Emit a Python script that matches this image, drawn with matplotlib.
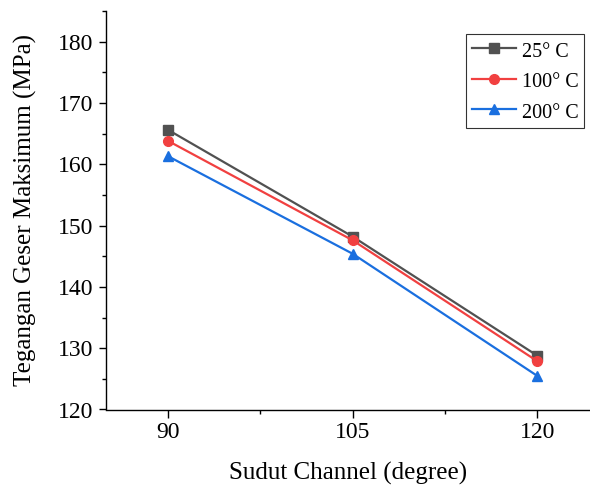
import matplotlib
matplotlib.use("Agg")
import matplotlib.pyplot as plt
from matplotlib.ticker import MultipleLocator

# Channel angle (degree) and maximum shear stress (MPa) per temperature
angles = [90, 105, 120]
stress_25 = [165.6, 148.2, 128.8]
stress_100 = [163.8, 147.6, 127.9]
stress_200 = [161.3, 145.4, 125.5]
series_labels = ["25° C", "100° C", "200° C"]

plt.rcParams["font.family"] = ["Liberation Serif", "DejaVu Serif"]

fig = plt.figure(figsize=(5.90, 4.88), dpi=100)
W, H = 590, 488
ax = fig.add_axes([105.5 / W, (H - 409.5) / H, (590 - 105.5) / W, (409.5 - 11) / H])

ax.plot(angles, stress_25, color="#515151", lw=1.6, marker="s", ms=6.5, label=series_labels[0])
ax.plot(angles, stress_100, color="#F14040", lw=1.6, marker="o", ms=7, label=series_labels[1])
ax.plot(angles, stress_200, color="#1A6FDF", lw=1.6, marker="^", ms=7.5, label=series_labels[2])

ax.set_xlim(84.9, 124.3)
ax.set_ylim(120, 185)
ax.set_xticks(angles)
ax.xaxis.set_minor_locator(MultipleLocator(7.5))
ax.yaxis.set_major_locator(MultipleLocator(10))
ax.yaxis.set_minor_locator(MultipleLocator(5))
ax.set_yticks(range(120, 181, 10))

for s in ("top", "right"):
    ax.spines[s].set_visible(False)
for s in ("left", "bottom"):
    ax.spines[s].set_linewidth(1.0)

ax.tick_params(which="major", direction="out", length=5.4, width=1.0, labelsize=17, pad=3.3)
ax.tick_params(which="minor", direction="out", length=2.6, width=1.0)

ax.set_xlabel("Sudut Channel (degree)", fontsize=18, labelpad=14)
ax.set_ylabel("Tegangan Geser Maksimum (MPa)", fontsize=18, labelpad=15)

leg = ax.legend(loc="upper right", bbox_to_anchor=((584 - 105.5) / (590 - 105.5), 1 - (34 - 11) / 398.5),
                fontsize=14.5, frameon=True, fancybox=False, edgecolor="black",
                handlelength=2.2, handletextpad=0.28, borderpad=0.275, labelspacing=0.37,
                handleheight=1.3, borderaxespad=0, markerscale=1.0)
leg.get_frame().set_linewidth(0.8)

fig.savefig("out.png", dpi=100)
